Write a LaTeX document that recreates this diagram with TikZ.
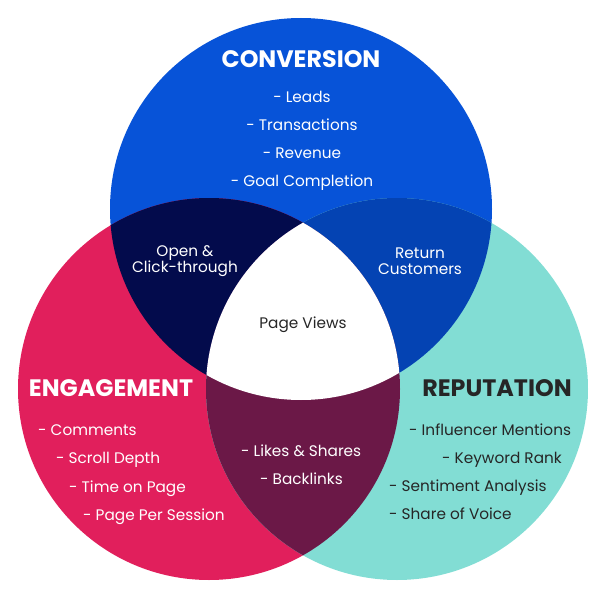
\documentclass[tikz,border=0pt]{standalone}
\usepackage{fontspec}
\setmainfont{Poppins}
\definecolor{cblue}{HTML}{0753D8}
\definecolor{cred}{HTML}{E11F5C}
\definecolor{cteal}{HTML}{82DDD4}
\definecolor{cnavy}{HTML}{030B4C}
\definecolor{cdblue}{HTML}{0443B3}
\definecolor{cmaroon}{HTML}{6B1847}
\definecolor{ctext}{HTML}{262626}
\begin{document}
\begin{tikzpicture}[x=1pt,y=-1pt,
  title/.style={font=\fontsize{23.8}{26}\selectfont\bfseries, text=white, inner sep=0pt, anchor=mid},
  item/.style={font=\fontsize{15.3}{17}\selectfont, text=white, inner sep=0pt, anchor=mid},
  litem/.style={item, anchor=mid west},
  two/.style={font=\fontsize{15.3}{16.5}\selectfont, text=white, inner sep=0pt, align=center, anchor=center}]
\useasboundingbox (0,0) rectangle (600,594);
\def\R{191}
\coordinate (cb) at (301,209);
\coordinate (cr) at (209,389);
\coordinate (ct) at (397,389);
% base circles
\fill[cblue] (cb) circle (\R);
\fill[cred] (cr) circle (\R);
\fill[cteal] (ct) circle (\R);
% pair overlaps
\begin{scope}\clip (cb) circle (\R); \fill[cnavy] (cr) circle (\R); \end{scope}
\begin{scope}\clip (cb) circle (\R); \fill[cdblue] (ct) circle (\R); \end{scope}
\begin{scope}\clip (cr) circle (\R); \fill[cmaroon] (ct) circle (\R); \end{scope}
% triple overlap
\begin{scope}\clip (cb) circle (\R); \clip (cr) circle (\R); \fill[white] (ct) circle (\R); \end{scope}
% CONVERSION
\node[title] (convT) at (301,65) {CONVERSION};
\node[item] (c1) at (302,100) {- Leads};
\node[item] (c2) at (302,128) {- Transactions};
\node[item] (c3) at (302,156) {- Revenue};
\node[item] (c4) at (302,184) {- Goal Completion};
% overlaps
\node[two] (oc) at (185,261) {Open \&\\Click-through};
\node[two] (rc) at (420,261) {Return\\Customers};
\node[item, text=ctext] (pv) at (303,326) {Page Views};
\node[litem] (ls) at (241,454) {- Likes \& Shares};
\node[litem] (bl) at (260,482) {- Backlinks};
% ENGAGEMENT
\node[title] (engT) at (111,394) {ENGAGEMENT};
\node[litem] (e1) at (38,433) {- Comments};
\node[litem] (e2) at (56,461) {- Scroll Depth};
\node[litem] (e3) at (69,490) {- Time on Page};
\node[litem] (e4) at (83,518) {- Page Per Session};
% REPUTATION
\node[title, text=ctext] (repT) at (497,394) {REPUTATION};
\node[litem, text=ctext] (r1) at (409,433) {- Influencer Mentions};
\node[litem, text=ctext] (r2) at (442,461) {- Keyword Rank};
\node[litem, text=ctext] (r3) at (389,489) {- Sentiment Analysis};
\node[litem, text=ctext] (r4) at (389,517) {- Share of Voice};
\end{tikzpicture}
\end{document}
